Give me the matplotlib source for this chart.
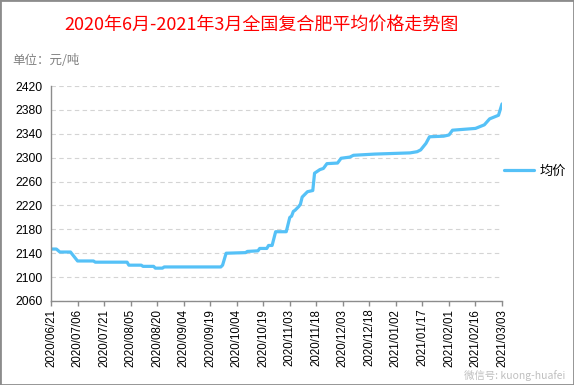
import matplotlib
matplotlib.use("Agg")
import matplotlib.pyplot as plt
import matplotlib.dates as mdates
from matplotlib.patches import Rectangle
import pandas as pd

plt.rcParams['font.family'] = ['Liberation Sans', 'Noto Sans CJK SC', 'DejaVu Sans']

# 均价 breakpoints (元/吨)
dates = [
    "2020-06-21", "2020-06-24", "2020-06-26", "2020-07-02", "2020-07-06",
    "2020-07-15", "2020-07-16", "2020-08-03", "2020-08-04", "2020-08-11",
    "2020-08-12", "2020-08-18", "2020-08-19", "2020-08-23", "2020-08-24",
    "2020-09-25", "2020-09-26", "2020-09-28", "2020-10-09", "2020-10-10",
    "2020-10-16", "2020-10-17", "2020-10-21", "2020-10-22", "2020-10-24",
    "2020-10-26", "2020-11-01", "2020-11-03", "2020-11-04", "2020-11-05",
    "2020-11-06", "2020-11-08", "2020-11-09", "2020-11-10", "2020-11-13",
    "2020-11-16", "2020-11-17", "2020-11-20", "2020-11-22", "2020-11-24",
    "2020-11-30", "2020-12-02", "2020-12-07", "2020-12-09", "2020-12-21",
    "2021-01-10", "2021-01-14", "2021-01-16", "2021-01-19", "2021-01-21",
    "2021-01-29", "2021-02-01", "2021-02-03", "2021-02-16", "2021-02-21",
    "2021-02-24", "2021-03-01", "2021-03-03",
]
prices = [
    2147, 2147, 2142, 2142, 2127,
    2127, 2125, 2125, 2120, 2120,
    2118, 2118, 2115, 2115, 2117,
    2117, 2120, 2140, 2141, 2143,
    2144, 2148, 2148, 2153, 2153,
    2176, 2176, 2200, 2202, 2210,
    2212, 2218, 2222, 2234, 2243,
    2245, 2274, 2280, 2282, 2290,
    2291, 2299, 2301, 2304, 2306,
    2308, 2310, 2313, 2324, 2335,
    2336, 2338, 2346, 2349, 2355,
    2365, 2371, 2390,
]

tick_dates = pd.date_range("2020-06-21", "2021-03-03", freq="15D")
y_ticks = list(range(2060, 2421, 40))

x = pd.to_datetime(dates)

fig = plt.figure(figsize=(5.74, 3.85), dpi=100)
ax = fig.add_axes([0.0889, 0.2182, 0.7857, 0.5584])

ax.plot(x, prices, color='#55C1F7', lw=2.3, label='均价', solid_capstyle='round')

ax.set_xlim(tick_dates[0], tick_dates[-1])
ax.set_ylim(2060, 2420)
ax.set_yticks(y_ticks)
ax.set_xticks(tick_dates)
ax.xaxis.set_major_formatter(mdates.DateFormatter('%Y/%m/%d'))

ax.grid(axis='y', color='#d4d4d4', linestyle=(0, (4, 3)), lw=0.8)
ax.set_axisbelow(True)
for s in ['top', 'right']:
    ax.spines[s].set_visible(False)
for s in ['left', 'bottom']:
    ax.spines[s].set_color('#8c8c8c')
    ax.spines[s].set_linewidth(1.0)

ax.tick_params(axis='y', length=0, pad=6, labelsize=8.7, labelcolor='black')
ax.tick_params(axis='x', length=3.5, width=1.0, color='#8c8c8c', pad=2,
               labelsize=8.3, labelrotation=90)

ax.legend(loc='center left', bbox_to_anchor=(0.878, 0.556),
          bbox_transform=fig.transFigure, frameon=False,
          handlelength=2.3, handletextpad=0.4, borderpad=0, borderaxespad=0,
          prop={'family': ['Noto Sans CJK SC'], 'size': 9.5})

fig.text(0.456, 0.935, '2020年6月-2021年3月全国复合肥平均价格走势图',
         ha='center', va='center', color='#ff0000', fontsize=13,
         family=['Noto Sans CJK SC'])
fig.text(0.021, 0.842, '单位：元/吨', ha='left', va='center', color='#808080',
         fontsize=9, family=['Noto Sans CJK SC'])

# watermark, kept below the date labels so it does not cover them
fig.text(0.985, 0.025, '微信号: kuong-huafei', ha='right', va='center',
         color='#b0b0b0', alpha=0.8, fontsize=7.5,
         family=['Noto Sans CJK SC', 'DejaVu Sans'])

fig.patches.append(Rectangle((0, 0), 1, 1, transform=fig.transFigure,
                             fill=False, edgecolor='#8c8c8c', lw=2))

fig.savefig('out.png', dpi=100)
